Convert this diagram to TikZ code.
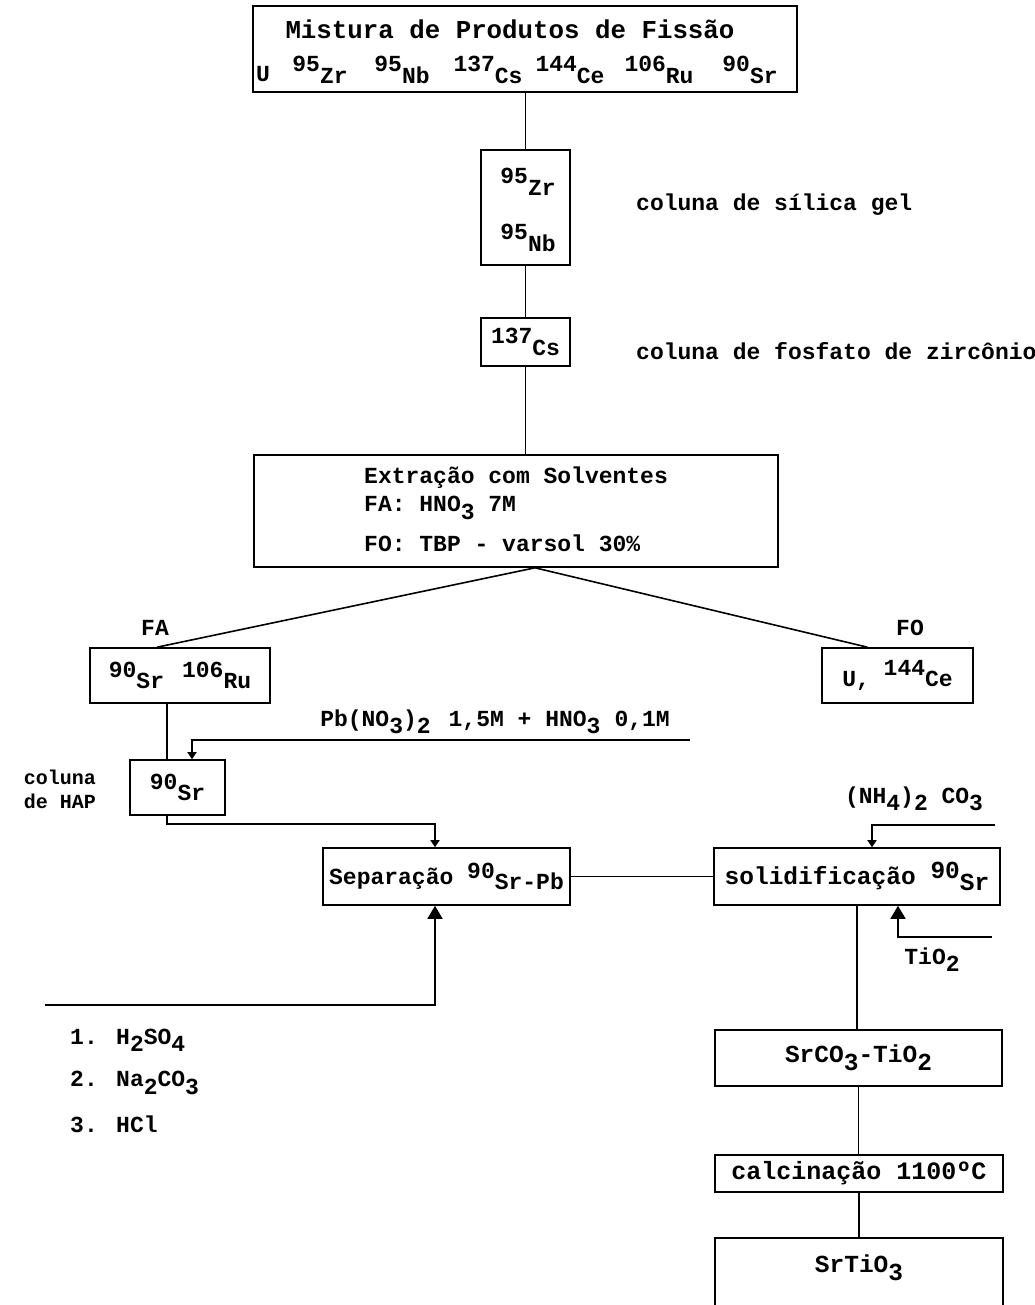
\documentclass[tikz,border=0pt]{standalone}
\usepackage{fontspec}
\setmainfont{Liberation Mono}
\usetikzlibrary{arrows.meta,calc}
\newcommand\iso[2]{\raisebox{0.5ex}{#1}\raisebox{-0.45ex}{#2}}
\newcommand\lo[1]{\raisebox{-0.6ex}{#1}}
\newcommand\dn[1]{\raisebox{-0.45ex}{#1}}
\begin{document}
\begin{tikzpicture}[x=1pt,y=-1pt,
  every node/.style={font=\bfseries\fontsize{23}{26}\selectfont},
  box/.style={draw, line width=1.6pt, inner sep=0pt},
  txt/.style={inner sep=0pt},
  ln/.style={line width=1.6pt},
  sarr/.style={line width=1.6pt,-{Triangle[length=7pt,width=9pt]}},
  barr/.style={line width=1.6pt,-{Triangle[length=13pt,width=15pt]}}]
\useasboundingbox (0,0) rectangle (1034,1305);
% boxes
\node[box, minimum width=544pt, minimum height=86pt] (b1) at (525,49) {};
\node[txt, font=\bfseries\fontsize{25.8}{28}\selectfont] (t1) at (510,29) {Mistura de Produtos de Fissão};
\node[txt, anchor=west] (u1) at (256,74) {\dn{U}};
\node[txt] (i1) at (320,70) {\iso{95}{Zr}};
\node[txt] (i2) at (402,70) {\iso{95}{Nb}};
\node[txt] (i3) at (488,70) {\iso{137}{Cs}};
\node[txt] (i4) at (570,70) {\iso{144}{Ce}};
\node[txt] (i5) at (659,70) {\iso{106}{Ru}};
\node[txt] (i6) at (750,70) {\iso{90}{Sr}};

\node[box, minimum width=89pt, minimum height=115pt] (b2) at (525.5,207.5) {};
\node[txt] (z2) at (528,182) {\iso{95}{Zr}};
\node[txt] (n2) at (528,238) {\iso{95}{Nb}};
\node[txt, anchor=west] (l2) at (636,205) {coluna de sílica gel};

\node[box, minimum width=89pt, minimum height=48pt] (b3) at (525.5,342) {\iso{137}{Cs}};
\node[txt, anchor=west] (l3) at (636,351) {coluna de fosfato de zircônio};

\node[box, minimum width=524pt, minimum height=112pt] (b4) at (516,511) {};
\node[txt, anchor=west] (e1) at (364,478) {Extração com Solventes};
\node[txt, anchor=west] (e2) at (364,508) {FA: HNO\lo{3} 7M};
\node[txt, anchor=west] (e3) at (364,543) {FO: TBP - varsol 30\%};

\node[box, minimum width=180pt, minimum height=55pt] (fa) at (180,675.5) {\iso{90}{Sr}\hspace{18pt}\iso{106}{Ru}};
\node[txt] (fal) at (155,628) {FA};
\node[box, minimum width=151pt, minimum height=55pt] (fo) at (897.5,675.5) {\dn{U,}~\iso{144}{Ce}};
\node[txt] (fol) at (910,628) {FO};

\node[box, minimum width=95pt, minimum height=55pt] (hap) at (177.5,787.5) {\iso{90}{Sr}};
\node[txt, anchor=east, align=left, font=\bfseries\fontsize{20}{24}\selectfont] (hapl) at (96,789) {coluna\\de HAP};
\node[txt] (pbl) at (495,722) {Pb(NO\lo{3})\lo{2}\hspace{18pt}1,5M + HNO\lo{3}\hspace{14pt}0,1M};
\coordinate (pbs) at (690,740);

\node[box, minimum width=247pt, minimum height=57pt] (sep) at (446.5,876.5) {Separação \iso{90}{Sr-Pb}};
\node[box, minimum width=286pt, minimum height=57pt, font=\bfseries\fontsize{24.5}{27}\selectfont] (sol) at (857,876.5) {solidificação \iso{90}{Sr}};
\node[txt] (nhl) at (914,799) {(NH\lo{4})\lo{2} CO\lo{3}};
\coordinate (nhs) at (995,825);
\node[txt] (til) at (932,960) {TiO\lo{2}};
\coordinate (tis) at (992,937);
\coordinate (hs) at (45,1005);
\node[txt, anchor=west] (r1) at (70,1040) {1. H\lo{2}SO\lo{4}};
\node[txt, anchor=west] (r2) at (70,1083) {2. Na\lo{2}CO\lo{3}};
\node[txt, anchor=west] (r3) at (70,1124) {3. HCl};

\node[box, minimum width=287pt, minimum height=56pt, font=\bfseries\fontsize{24.5}{27}\selectfont] (sc) at (858.5,1058) {SrCO\lo{3}-TiO\lo{2}};
\node[box, minimum width=288pt, minimum height=37pt, font=\bfseries\fontsize{25}{28}\selectfont] (ca) at (859,1173.5) {calcinação 1100ºC};
\node[inner sep=0pt, minimum width=288pt, minimum height=80pt] (st) at (859,1278) {};
\node[txt, font=\bfseries\fontsize{24.5}{27}\selectfont] (stt) at (859,1268) {SrTiO\lo{3}};
\draw[ln] (st.south west) -- (st.north west) -- (st.north east) -- (st.south east);

% connectors
\draw[ln] (b2.north |- b1.south) -- (b2.north);
\draw[ln] (b2.south) -- (b3.north);
\draw[ln] (b3.south) -- (b3.south |- b4.north);
\draw[ln] ([xshift=19pt]b4.south) -- ([xshift=-23pt]fa.north);
\draw[ln] ([xshift=19pt]b4.south) -- ([xshift=-30pt]fo.north);
\draw[ln] ([xshift=-10.5pt]hap.north |- fa.south) -- ([xshift=-10.5pt]hap.north);
\draw[sarr] (pbs) -| ([xshift=14.5pt]hap.north);
\draw[sarr] ([xshift=-10.5pt]hap.south) |- ([xshift=-11.5pt,yshift=23pt]sep.north) -- ([xshift=-11.5pt]sep.north);
\draw[ln] (sep.east) -- (sol.west);
\draw[sarr] (nhs) -| ([xshift=15pt]sol.north);
\draw[barr] (tis) -| ([xshift=41pt]sol.south);
\draw[barr] (hs) -| ([xshift=-11.5pt]sep.south);
\draw[ln] (sol.south) -- (sol.south |- sc.north);
\draw[ln] (sc.south) -- (sc.south |- ca.north);
\draw[ln] (ca.south) -- (ca.south |- st.north);
\end{tikzpicture}
\end{document}
